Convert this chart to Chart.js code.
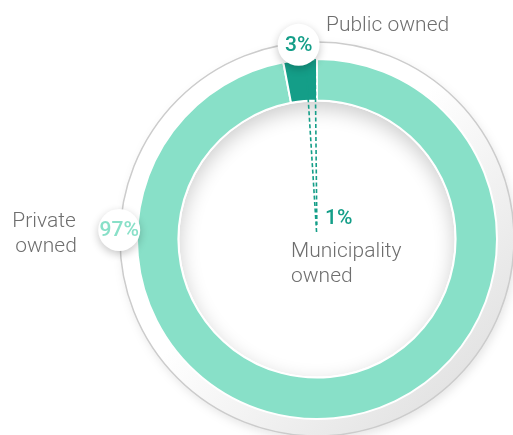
<!DOCTYPE html>
<html>
<head>
<meta charset="utf-8">
<script src="https://cdn.jsdelivr.net/npm/chart.js@4/dist/chart.umd.min.js"></script>
<style>
  html, body { margin: 0; padding: 0; background: #fff; }
  #ownership { display: block; }
</style>
</head>
<body>
<canvas id="ownership" width="513" height="435"></canvas>
<script>
// ownership split, the 1% municipality part sits inside the public slice
const categories = ['Private owned', 'Public owned'];
const shares = [97, 3];
const shareLabels = ['97%', '3%'];
const subCategory = 'Municipality owned';
const subShare = 1;
const subShareLabel = '1%';

const LIGHT = '#88e0c8';
const DARK = '#149e88';
const TEXT = '#6e6e6e';
const FONT = '"Roboto Light", Roboto, "Open Sans", sans-serif';
const BOLD = 'Roboto, "Open Sans", sans-serif';

const deg = (d) => d * Math.PI / 180;

function bubble(ctx, x, y, text, color) {
  ctx.save();
  ctx.shadowColor = 'rgba(0, 0, 0, 0.22)';
  ctx.shadowBlur = 8;
  ctx.shadowOffsetY = 3;
  ctx.fillStyle = '#ffffff';
  ctx.beginPath();
  ctx.arc(x, y, 21, 0, Math.PI * 2);
  ctx.fill();
  ctx.restore();

  ctx.save();
  ctx.fillStyle = color;
  ctx.font = '500 21px ' + BOLD;
  ctx.textAlign = 'center';
  ctx.textBaseline = 'middle';
  ctx.fillText(text, x, y + 1);
  ctx.restore();
}

const decorations = {
  id: 'decorations',

  beforeDatasetsDraw(chart) {
    const { ctx } = chart;
    const arc = chart.getDatasetMeta(0).data[0];
    const cx = arc.x, cy = arc.y;
    const R = arc.outerRadius, r = arc.innerRadius;
    const D = R + 17;

    // outer plate
    ctx.save();
    ctx.shadowColor = 'rgba(0, 0, 0, 0.10)';
    ctx.shadowBlur = 10;
    ctx.shadowOffsetX = 2;
    ctx.shadowOffsetY = 4;
    const grad = ctx.createLinearGradient(cx - 0.1 * D, cy - 0.1 * D, cx + 0.7 * D, cy + 0.7 * D);
    grad.addColorStop(0, '#ffffff');
    grad.addColorStop(1, '#e4e4e4');
    ctx.fillStyle = grad;
    ctx.beginPath();
    ctx.arc(cx, cy, D, 0, Math.PI * 2);
    ctx.fill();
    ctx.restore();

    ctx.save();
    ctx.strokeStyle = '#cccccc';
    ctx.lineWidth = 1.5;
    ctx.beginPath();
    ctx.arc(cx, cy, D, 0, Math.PI * 2);
    ctx.stroke();
    ctx.restore();

    // inner disc with a soft inner shadow at the top
    ctx.save();
    ctx.beginPath();
    ctx.arc(cx, cy, r, 0, Math.PI * 2);
    ctx.clip();
    ctx.fillStyle = '#ffffff';
    ctx.fill();
    ctx.beginPath();
    ctx.arc(cx, cy, r + 60, 0, Math.PI * 2);
    ctx.arc(cx, cy, r - 1, 0, Math.PI * 2, true);
    ctx.shadowColor = 'rgba(0, 0, 0, 0.20)';
    ctx.shadowBlur = 20;
    ctx.shadowOffsetY = 7;
    ctx.fillStyle = '#ffffff';
    ctx.fill();
    ctx.restore();
  },

  afterDatasetsDraw(chart) {
    const { ctx } = chart;
    const meta = chart.getDatasetMeta(0);
    const pubArc = meta.data[1];
    const cx = pubArc.x, cy = pubArc.y;
    const R = pubArc.outerRadius;

    // dashed pointers marking the municipality part of the public slice
    const subAngle = deg(360 * subShare / 100);
    const edges = [pubArc.endAngle - subAngle, pubArc.endAngle - deg(0.6)];
    ctx.save();
    ctx.strokeStyle = DARK;
    ctx.lineWidth = 1.6;
    ctx.setLineDash([4, 2.5]);
    edges.forEach((a, i) => {
      const inner = i === 0 ? 7 : 14;
      ctx.beginPath();
      ctx.moveTo(cx + Math.cos(a) * R, cy + Math.sin(a) * R);
      ctx.lineTo(cx + Math.cos(a) * inner, cy + Math.sin(a) * inner);
      ctx.stroke();
    });
    ctx.restore();

    // bubbles
    const pubMid = (pubArc.startAngle + pubArc.endAngle) / 2;
    bubble(ctx, cx + Math.cos(pubMid) * (R + 15), cy + Math.sin(pubMid) * (R + 15), shareLabels[1], DARK);
    const privPos = deg(-177.4);
    bubble(ctx, cx + Math.cos(privPos) * (R + 18), cy + Math.sin(privPos) * (R + 18), shareLabels[0], LIGHT);

    // labels
    ctx.save();
    ctx.fillStyle = TEXT;
    ctx.font = '300 21px ' + FONT;
    ctx.textBaseline = 'alphabetic';

    ctx.textAlign = 'left';
    ctx.fillText(categories[1], cx + 9, cy - 208);

    const privWords = categories[0].split(' ');
    ctx.textAlign = 'center';
    ctx.fillText(privWords[0], cx - 273, cy - 12);
    ctx.fillText(privWords[1], cx - 271, cy + 13);

    const subWords = subCategory.split(' ');
    ctx.textAlign = 'left';
    ctx.fillText(subWords[0], cx - 26, cy + 18);
    ctx.fillText(subWords[1], cx - 26, cy + 43);

    ctx.fillStyle = DARK;
    ctx.font = '500 21px ' + BOLD;
    ctx.fillText(subShareLabel, cx + 8, cy - 15);
    ctx.restore();
  }
};

new Chart(document.getElementById('ownership'), {
  type: 'doughnut',
  data: {
    labels: categories,
    datasets: [{
      data: shares,
      backgroundColor: [LIGHT, DARK],
      borderColor: '#ffffff',
      borderWidth: 2
    }]
  },
  options: {
    responsive: false,
    animation: false,
    cutout: '77%',
    layout: {
      padding: { left: 136, right: 15, top: 58, bottom: 15 }
    },
    plugins: {
      legend: { display: false },
      tooltip: { enabled: false }
    }
  },
  plugins: [decorations]
});
</script>
</body>
</html>
